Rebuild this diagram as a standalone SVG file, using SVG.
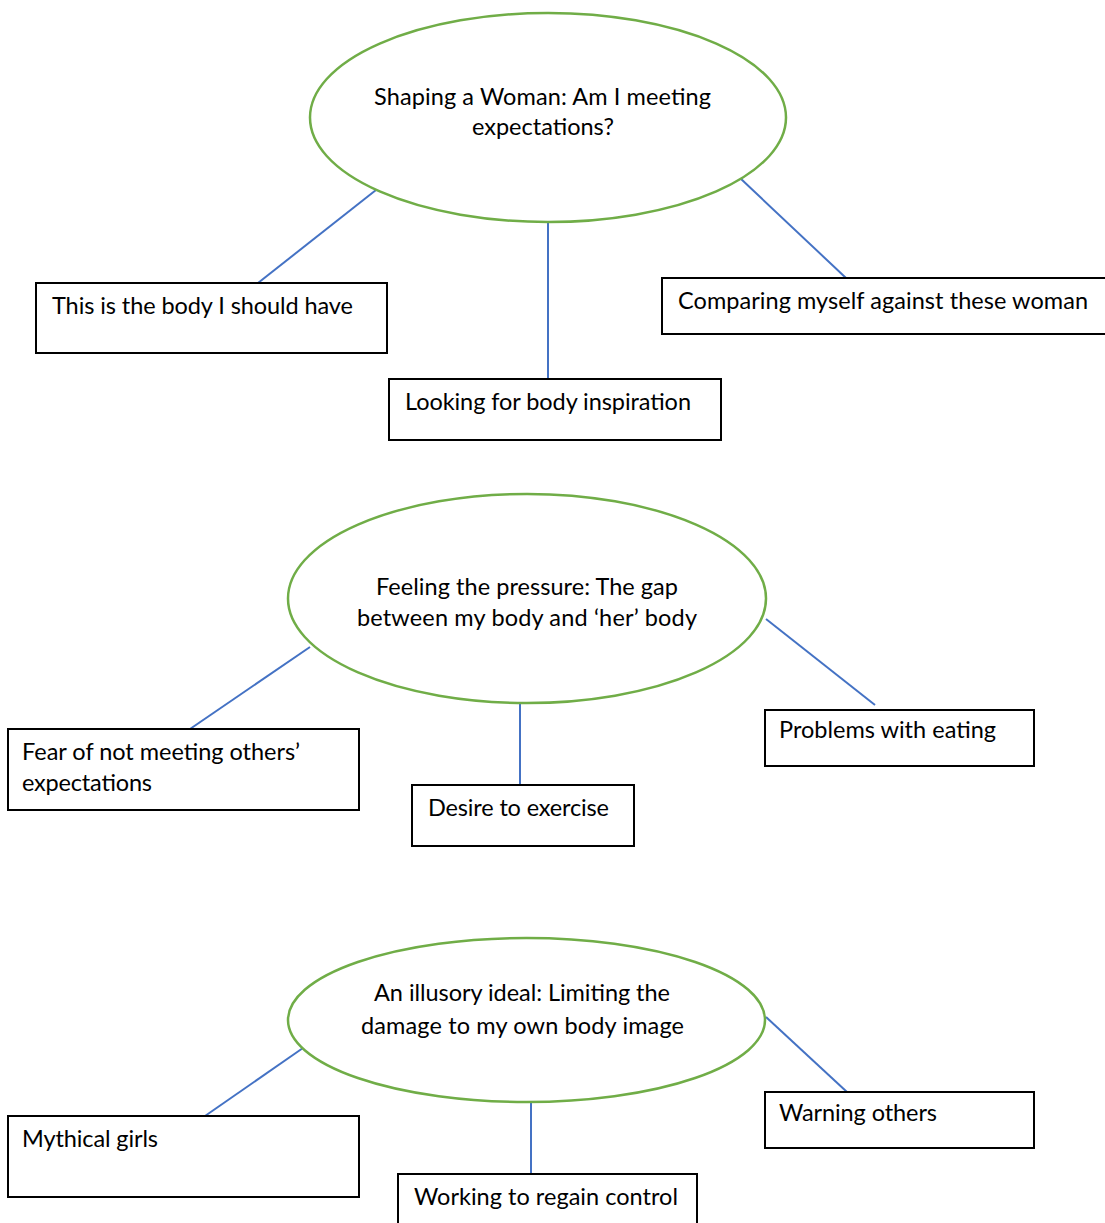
<svg xmlns="http://www.w3.org/2000/svg" width="1105" height="1223" viewBox="0 0 1105 1223">
<style>
.ell{fill:#fff;stroke:#70ad47;stroke-width:2.5}
.box{fill:#fff;stroke:#000;stroke-width:2}
.ln{stroke:#4472c4;stroke-width:2;fill:none}
text{font-family:Lato,"Open Sans",sans-serif;font-size:23.5px;fill:#000}
.c{text-anchor:middle}
</style>
<rect width="1105" height="1223" fill="#fff"/>
<g id="connectors">
<line class="ln" x1="376" y1="190" x2="258" y2="283"/>
<line class="ln" x1="548" y1="222" x2="548" y2="379"/>
<line class="ln" x1="740" y1="178" x2="846" y2="278"/>
<line class="ln" x1="310" y1="647" x2="190" y2="729"/>
<line class="ln" x1="520" y1="703" x2="520" y2="785"/>
<line class="ln" x1="766" y1="619" x2="875" y2="705"/>
<line class="ln" x1="303" y1="1048" x2="205" y2="1116"/>
<line class="ln" x1="531" y1="1102" x2="531" y2="1174"/>
<line class="ln" x1="766" y1="1017" x2="847" y2="1092"/>
</g>
<g id="theme1">
<ellipse class="ell" cx="548" cy="117.5" rx="238" ry="104.5"/>
<text class="c" x="542.5" y="105" textLength="337">Shaping a Woman: Am I meeting</text>
<text class="c" x="543" y="135" textLength="142">expectations?</text>
</g>
<g id="sub1a">
<rect class="box" x="36" y="283" width="351" height="70"/>
<text x="52" y="314" textLength="301">This is the body I should have</text>
</g>
<g id="sub1b">
<rect class="box" x="389" y="379" width="332" height="61"/>
<text x="405" y="410" textLength="286">Looking for body inspiration</text>
</g>
<g id="sub1c">
<rect class="box" x="662" y="278" width="450" height="56"/>
<text x="678" y="309" textLength="410">Comparing myself against these woman</text>
</g>
<g id="theme2">
<ellipse class="ell" cx="527" cy="598.5" rx="239" ry="104.5"/>
<text class="c" x="527" y="595" textLength="302">Feeling the pressure: The gap</text>
<text class="c" x="527" y="626" textLength="340">between my body and ‘her’ body</text>
</g>
<g id="sub2a">
<rect class="box" x="8" y="729" width="351" height="81"/>
<text x="22" y="760" textLength="278">Fear of not meeting others’</text>
<text x="22" y="791" textLength="130">expectations</text>
</g>
<g id="sub2b">
<rect class="box" x="412" y="785" width="222" height="61"/>
<text x="428" y="816" textLength="181">Desire to exercise</text>
</g>
<g id="sub2c">
<rect class="box" x="765" y="710" width="269" height="56"/>
<text x="779" y="738" textLength="217">Problems with eating</text>
</g>
<g id="theme3">
<ellipse class="ell" cx="526.5" cy="1020" rx="238.5" ry="82"/>
<text class="c" x="522" y="1001" textLength="296">An illusory ideal: Limiting the</text>
<text class="c" x="522.5" y="1034" textLength="323">damage to my own body image</text>
</g>
<g id="sub3a">
<rect class="box" x="8" y="1116" width="351" height="81"/>
<text x="22" y="1147" textLength="136">Mythical girls</text>
</g>
<g id="sub3b">
<rect class="box" x="398" y="1174" width="299" height="60"/>
<text x="414" y="1205" textLength="264">Working to regain control</text>
</g>
<g id="sub3c">
<rect class="box" x="765" y="1092" width="269" height="56"/>
<text x="779" y="1121" textLength="158">Warning others</text>
</g>
</svg>
